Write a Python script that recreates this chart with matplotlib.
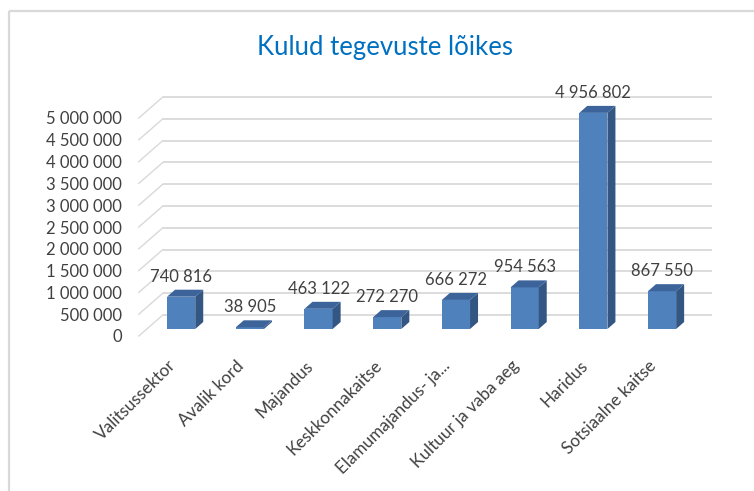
import matplotlib
matplotlib.use("Agg")
import matplotlib.pyplot as plt
from matplotlib.patches import Polygon, Rectangle

# ---- data ----
categories = ["Valitsussektor", "Avalik kord", "Majandus", "Keskkonnakaitse",
              "Elamumajandus- ja...", "Kultuur ja vaba aeg", "Haridus", "Sotsiaalne kaitse"]
values = [740816, 38905, 463122, 272270, 666272, 954563, 4956802, 867550]
y_ticks = [0, 500000, 1000000, 1500000, 2000000, 2500000, 3000000,
           3500000, 4000000, 4500000, 5000000]
title = "Kulud tegevuste lõikes"

def fmt(v):
    return f"{v:,}".replace(",", " ")

W, H = 754, 491
fig = plt.figure(figsize=(W / 100, H / 100), dpi=100)
plt.rcParams['font.family'] = ['Lato', 'DejaVu Sans']

# axes: front plane of the 3D box
left_px, right_px = 138.8, 688.4
bot_px, top_px = 336, 118
ax = fig.add_axes([left_px / W, 1 - bot_px / H, (right_px - left_px) / W, (bot_px - top_px) / H])
n = len(categories)
ymax = y_ticks[-1]
ax.set_xlim(-0.5, n - 0.5)
ax.set_ylim(0, ymax)
for s in ax.spines.values():
    s.set_visible(False)

px_x = (n) / (right_px - left_px)          # data units per px (x)
px_y = ymax / (bot_px - top_px)            # data units per px (y)
DX = 24 * px_x
DY = 21 * px_y

grid_col = "#D9D9D9"
# back wall gridlines and left wall diagonals
for v in y_ticks:
    ax.plot([-0.5 + DX, n - 0.5 + DX], [v + DY, v + DY], color=grid_col, lw=1.3,
            zorder=1, clip_on=False, solid_capstyle='butt')
    ax.plot([-0.5, -0.5 + DX], [v, v + DY], color=grid_col, lw=1.0,
            zorder=1, clip_on=False)

front_c = "#4F81BD"
side_c = "#335683"
top_c = "#3C649A"
w = 0.41
d0x, d0y = DX / 3, DY / 3
ddx, ddy = DX / 3, DY / 3
xs = list(range(n))
bars = ax.bar([x + d0x for x in xs], values, width=w, bottom=d0y, color=front_c,
              zorder=3, clip_on=False)
for x, v in zip(xs, values):
    x0 = x + d0x - w / 2
    x1 = x0 + w
    y0 = d0y
    y1 = d0y + v
    side = Polygon([(x1, y0), (x1 + ddx, y0 + ddy), (x1 + ddx, y1 + ddy), (x1, y1)],
                   closed=True, facecolor=side_c, edgecolor='none', zorder=3, clip_on=False)
    top = Polygon([(x0, y1), (x1, y1), (x1 + ddx, y1 + ddy), (x0 + ddx, y1 + ddy)],
                  closed=True, facecolor=top_c, edgecolor='none', zorder=3, clip_on=False)
    ax.add_patch(side)
    ax.add_patch(top)
    ax.annotate(fmt(v), xy=(x + d0x, y1), xytext=(0, 10.8), textcoords='offset points',
                ha='center', va='baseline', fontsize=12, color='#404040', zorder=5,
                annotation_clip=False)

txt_col = "#404040"
ax.set_yticks(y_ticks)
ax.set_yticklabels([fmt(v) for v in y_ticks], fontsize=12, color=txt_col)
ax.set_xticks(xs)
ax.set_xticklabels(categories, rotation=45, ha='right', va='center',
                   rotation_mode='anchor', fontsize=12.3, color=txt_col)
ax.tick_params(axis='y', length=0, pad=12)
ax.tick_params(axis='x', length=0, pad=19.5)

fig.text(385 / W, 1 - 55 / H, title, ha='center', va='baseline', fontsize=18.5,
         color='#0070C0')

fig.add_artist(Rectangle((9 / W, 1 - 11 / H), 2, -2, transform=fig.transFigure,
                         fill=False, edgecolor=grid_col, lw=1.6))

fig.savefig("out.png", dpi=100)
